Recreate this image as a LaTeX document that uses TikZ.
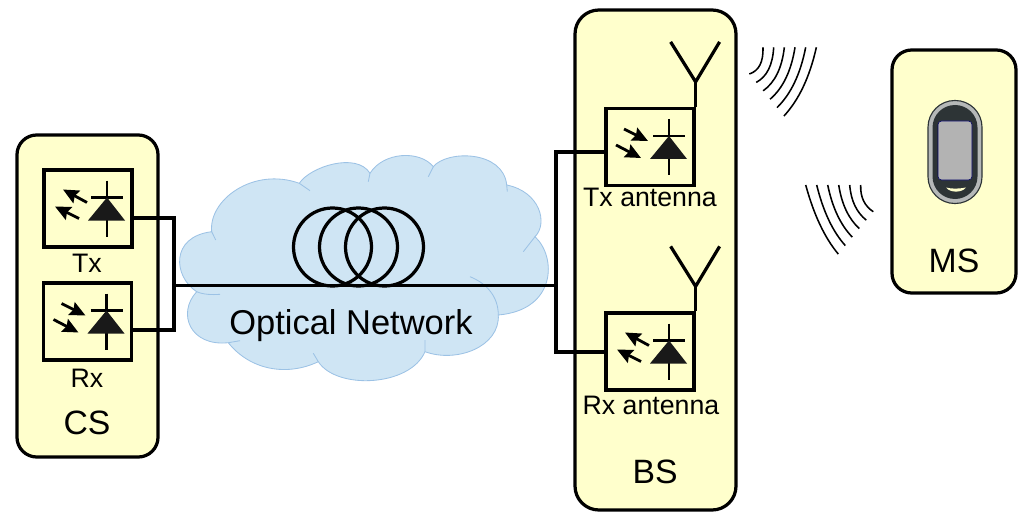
\documentclass[tikz,border=0pt]{standalone}
\usepackage{fontspec}
\setmainfont{Liberation Sans}
\usetikzlibrary{arrows.meta, positioning, calc}
\definecolor{panelfill}{HTML}{FFFFCC}
\definecolor{cloudfill}{HTML}{CFE5F4}
\definecolor{cloudline}{HTML}{9CC2E5}
\definecolor{phonedark}{HTML}{2D3436}
\definecolor{phonering}{HTML}{B5B8B8}
\definecolor{phonescreen}{HTML}{B3B3B3}
\newcommand{\px}{0.025cm}
\tikzset{
    panel/.style = {
        draw,
        line width = 2.3pt,
        fill = panelfill,
        inner sep = 0pt,
        rounded corners = 14pt
    },
    unit/.style = {
        draw,
        line width = 2.3pt,
        inner sep = 0pt,
        minimum width = 88*\px,
        minimum height = 77*\px
    },
    wire/.style = {
        line width = 2.3pt
    },
    wave/.style = {
        line width = 1.1pt
    },
    ray/.style = {
        line width = 2pt,
        -{Stealth[length = 11pt, width = 10pt, inset = 1.5pt]}
    },
    pics/diode/.style = {
        code = {
            \draw[line width = 2pt] (19, -28) -- (19, 28);
            \draw[line width = 2pt] (3, -11) -- (35, -11);
            \fill[black!90] (19, -11) -- (37, 12) -- (0, 12) -- cycle;
        }
    },
    pics/sender/.style = {
        code = {
            \pic {diode};
            \draw[ray] (-1, -6) -- (-25, -19);
            \draw[ray] (-9, 10) -- (-33, -2);
        }
    },
    pics/receiver/.style = {
        code = {
            \pic {diode};
            \draw[ray] (-26, -18) -- (-2, -6);
            \draw[ray] (-34, -2) -- (-9, 11);
        }
    },
    pics/antenna/.style = {
        code = {
            \draw[wire] (0, 0) -- (0, -25);
            \draw[wire, line join = miter] (-25, -65) -- (0, -25) -- (24, -65);
        }
    }
}
\begin{document}
\begin{tikzpicture}[x = \px, y = -\px]
    \useasboundingbox (0, 0) rectangle (1024, 518);

    % cloud
    \path[fill = cloudfill, draw = cloudline, line width = 0.6pt]
        (211.7, 231.7)
        .. controls (208.3, 200) and (253.3, 166.7) .. (299.3, 183.3)
        .. controls (310, 166.7) and (356.7, 151.7) .. (370, 173.3)
        .. controls (383.3, 151.7) and (420, 150) .. (433.3, 166.7)
        .. controls (446.7, 150) and (503.3, 150) .. (506.7, 185)
        .. controls (540, 191.7) and (548.3, 223.3) .. (535, 236.7)
        .. controls (556.7, 256.7) and (556.7, 310) .. (498.3, 315)
        .. controls (500, 346.7) and (456.7, 363.3) .. (425, 351.7)
        .. controls (410, 386.7) and (336.7, 390) .. (318.3, 361.7)
        .. controls (286.7, 376.7) and (250, 370) .. (228.3, 342.7)
        .. controls (190, 346.7) and (176.7, 313.3) .. (196.7, 291.7)
        .. controls (173.3, 276.7) and (170, 236.7) .. (211.7, 231.7)
        -- cycle;
    \draw[cloudline, line width = 0.6pt]
        (299.3, 183.3) -- (310, 190.7)
        (370, 173.3) -- (368.3, 181.7)
        (433.3, 166.7) -- (428.3, 176.7)
        (506.7, 185) -- (507.3, 191.7)
        (535, 236.7) -- (523.3, 251.7)
        (498.3, 315) .. controls (498.3, 296.7) and (486.7, 283.3) .. (470, 276.7)
        (425, 351.7) -- (425, 340)
        (318.3, 361.7) -- (313.3, 353.3)
        (228.3, 342.7) -- (240, 340.7)
        (196.7, 291.7) .. controls (203, 294.5) and (212, 295) .. (220, 294.3)
        (211.7, 231.7) -- (215.7, 240);
    \node (network) at (351, 326) {\fontsize{24.5pt}{28pt}\selectfont Optical Network};

    % panels
    \node[panel, minimum width = 141*\px, minimum height = 322*\px] (cs) at (87.5, 296) {};
    \node[panel, minimum width = 161*\px, minimum height = 500*\px, rounded corners = 17pt] (bs) at (655.5, 260) {};
    \node[panel, minimum width = 124*\px, minimum height = 243*\px] (ms) at (954, 171.5) {};

    \node[font = \fontsize{24pt}{28pt}\selectfont] (cslabel) at (87, 423) {CS};
    \node[font = \fontsize{24pt}{28pt}\selectfont] (bslabel) at (655, 472) {BS};
    \node[font = \fontsize{24pt}{28pt}\selectfont] (mslabel) at (954, 261) {MS};

    % converters
    \node[unit] (tx) at (88, 208.5) {};
    \node[unit] (rx) at (87.5, 321.5) {};
    \node[unit] (txant) at (650, 147) {};
    \node[unit] (rxant) at (650, 351.5) {};
    \pic at (tx.center) {sender};
    \pic at (rx.center) {receiver};
    \pic at (txant.center) {receiver};
    \pic at (rxant.center) {sender};

    \node[font = \fontsize{19pt}{22pt}\selectfont] (txlabel) at (87, 263) {Tx};
    \node[font = \fontsize{19pt}{22pt}\selectfont] (rxlabel) at (87, 378) {Rx};
    \node[font = \fontsize{19pt}{23pt}\selectfont] (txantlabel) at (650, 197) {Tx antenna};
    \node[font = \fontsize{19pt}{23pt}\selectfont] (rxantlabel) at (651, 405) {Rx antenna};

    \pic at (txant.north east) {antenna};
    \pic at (rxant.north east) {antenna};

    % fibre
    \coordinate (csup) at (174, 218);
    \coordinate (csdown) at (174, 330);
    \coordinate (csjoin) at (174, 285.5);
    \coordinate (bsup) at (556, 152);
    \coordinate (bsdown) at (556, 352);
    \coordinate (bsjoin) at (556, 285.5);
    \draw[wire] (tx.east |- csup) -- (csup) -- (csdown) -- (rx.east |- csdown);
    \draw[wire] (txant.west |- bsup) -- (bsup) -- (bsdown) -- (rxant.west |- bsdown);
    \draw[wire, line width = 2.7pt] (csjoin) -- (bsjoin);
    \foreach \i in {0, 1, 2}{
        \draw[wire] ({332.5 + \i * 26}, 247) circle (39);
    }

    % radio waves
    \foreach \i in {0, 1, ..., 5}{
        \draw[wave] ({763 + 10.67 * \i}, 47.3)
            .. controls ({763.5 + 9.24 * \i}, {62 + 3 * \i}) and ({758.9 + 8 * \i}, {70.9 + 5.78 * \i})
            .. ({749.3 + 6.93 * \i}, {74 + 8.4 * \i});
        \draw[wave] ({860.7 - 11 * \i}, 185)
            .. controls ({860.2 - 9.26 * \i}, {197 + 3.6 * \i}) and ({864.4 - 7.92 * \i}, {205.9 + 6.42 * \i})
            .. ({873.3 - 7 * \i}, {211.7 + 8.47 * \i});
    }

    % phone
    \node[draw = phonedark, line width = 0.8pt, fill = phonering, inner sep = 0pt, minimum width = 54*\px, minimum height = 103*\px, rounded corners = 19pt] (phone) at (955, 152) {};
    \node[fill = phonedark, inner sep = 0pt, minimum width = 45*\px, minimum height = 94*\px, rounded corners = 16pt] (phonebody) at (phone.center) {};
    \node[draw = blue!40!black, line width = 0.4pt, fill = phonescreen, inner sep = 0pt, minimum width = 34*\px, minimum height = 59*\px, rounded corners = 2.5pt] (screen) at (955, 150.5) {};
    \fill[panelfill] (946, 187.5) .. controls (951, 189) and (959, 189) .. (966, 187.5) .. controls (962, 193) and (950, 193) .. (946, 187.5);
\end{tikzpicture}
\end{document}
